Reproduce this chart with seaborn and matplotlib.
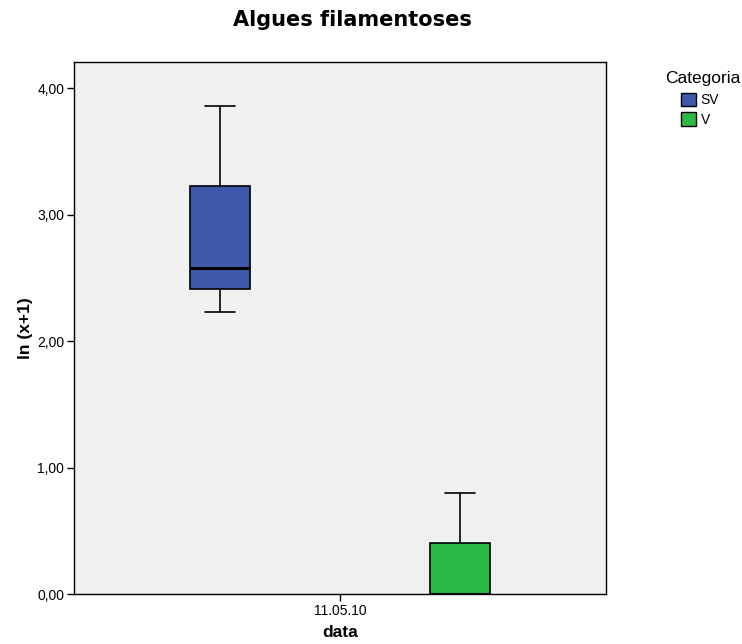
import numpy as np
import pandas as pd
import seaborn as sns
import matplotlib
matplotlib.use("Agg")
import matplotlib.pyplot as plt
from matplotlib.patches import Patch

# Data (ln(x+1))
date_label = "11.05.10"
categories = ["SV", "V"]
sv_values = [2.23, 2.41, 2.58, 3.225, 3.86]
v_values = [0.0, 0.0, 0.0, 0.40, 0.80]
colors = {"SV": "#3e58ac", "V": "#2db84a"}

rows = []
for cat, vals in zip(categories, [sv_values, v_values]):
    for v in vals:
        rows.append({"data": date_label, "Categoria": cat, "value": v})
df = pd.DataFrame(rows)

sns.set_theme(style="white")
plt.rcParams['font.family'] = ['Liberation Sans', 'DejaVu Sans']
plt.rcParams['text.color'] = 'black'
plt.rcParams['axes.labelcolor'] = 'black'
plt.rcParams['xtick.color'] = 'black'
plt.rcParams['ytick.color'] = 'black'

fig = plt.figure(figsize=(7.42, 6.44), dpi=100)
ax = fig.add_axes([74/742, 50/644, 532/742, 532.3/644])
ax.set_facecolor("#f0f0f0")

sns.boxplot(data=df, x="data", y="value", hue="Categoria", hue_order=categories,
            palette=colors, width=0.9, gap=0.75, whis=1.5, ax=ax,
            linecolor="black", linewidth=1.2, saturation=1,
            medianprops=dict(linewidth=2.2, color="black"),
            legend=False)

ax.set_xlim(-0.5, 0.5)
ax.set_ylim(0, 4.21)
ax.set_yticks([0, 1, 2, 3, 4])
ax.set_yticklabels(["0,00", "1,00", "2,00", "3,00", "4,00"], fontsize=10)
ax.tick_params(axis="x", labelsize=10)
ax.tick_params(axis="both", direction="out", length=5, width=1, color="black",
               left=True, bottom=True, pad=2)
for s in ax.spines.values():
    s.set_color("black")
    s.set_linewidth(1)

ax.set_xlabel("data", fontsize=12.5, fontweight="bold", labelpad=5)
ax.set_ylabel("ln (x+1)", fontsize=12.5, fontweight="bold", labelpad=3)

fig.text(352/742, 1 - 20/644, "Algues filamentoses", ha="center", va="center",
         fontsize=15, fontweight="bold", family="DejaVu Sans")

fig.text(665/742, 1 - 78/644, "Categoria", ha="left", va="center", fontsize=12.5)
handles = [Patch(facecolor=colors[c], edgecolor="black", linewidth=1, label=c) for c in categories]
leg = fig.legend(handles=handles, loc="upper left",
                 bbox_to_anchor=(681/742, 1 - 93/644), frameon=False,
                 fontsize=10, handlelength=1.1, handleheight=1.1,
                 handletextpad=0.3, labelspacing=0.35, borderaxespad=0, borderpad=0)

fig.savefig("out.png", dpi=100)
